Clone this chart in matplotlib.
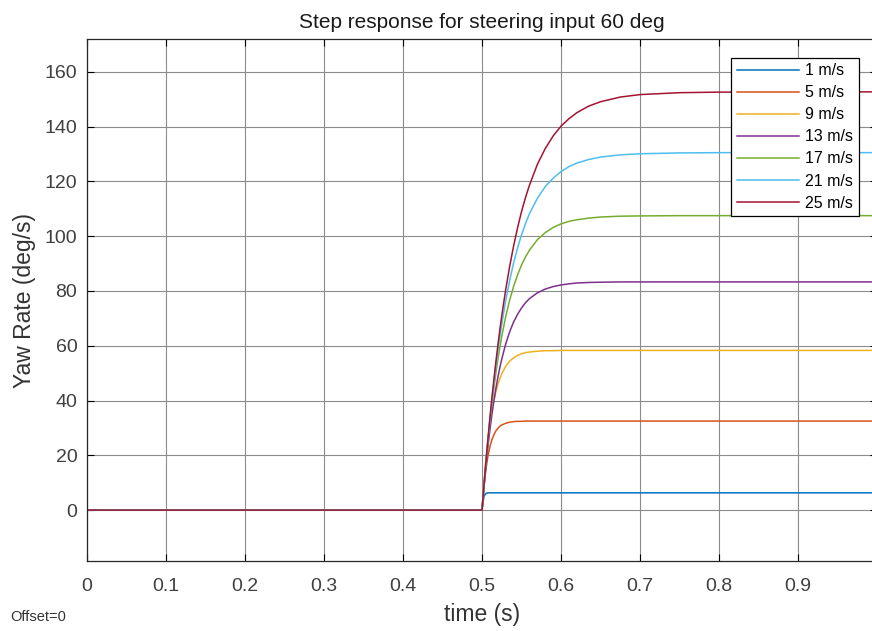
import matplotlib
matplotlib.use('Agg')
import matplotlib.pyplot as plt

plt.rcParams['font.family'] = ['Liberation Sans', 'DejaVu Sans']

# time points (s); step applied at t = 0.5
t = [0, 0.5, 0.5025, 0.505, 0.5075, 0.51, 0.5125, 0.515, 0.5175, 0.52, 0.5225,
     0.525, 0.53, 0.535, 0.54, 0.545, 0.55, 0.555, 0.56, 0.57, 0.58,
     0.59, 0.60, 0.61, 0.62, 0.635, 0.65, 0.675, 0.70, 0.75, 0.80, 1.0]

# yaw rate (deg/s) for each speed
v1 = [0, 0, 5.1, 6.1, 6.26, 6.3, 6.3, 6.3, 6.3, 6.3, 6.3,
      6.3, 6.3, 6.3, 6.3, 6.3, 6.3, 6.3, 6.3, 6.3, 6.3,
      6.3, 6.3, 6.3, 6.3, 6.3, 6.3, 6.3, 6.3, 6.3, 6.3, 6.3]
v5 = [0, 0, 8.7, 15.1, 19.8, 23.2, 25.7, 27.5, 28.9, 29.8, 30.6,
      31.1, 31.7, 32.1, 32.3, 32.4, 32.4, 32.5, 32.5, 32.5, 32.5,
      32.5, 32.5, 32.5, 32.5, 32.5, 32.5, 32.5, 32.5, 32.5, 32.5, 32.5]
v9 = [0, 0, 10.2, 18.6, 25.6, 31.3, 36.0, 39.9, 43.1, 45.8, 48.0,
      49.8, 52.5, 54.4, 55.6, 56.5, 57.1, 57.5, 57.7, 58.0, 58.2,
      58.2, 58.3, 58.3, 58.3, 58.3, 58.3, 58.3, 58.3, 58.3, 58.3, 58.3]
v13 = [0, 0, 8.6, 16.3, 23.2, 29.4, 34.9, 39.9, 44.4, 48.4, 52.0,
       55.2, 60.7, 65.1, 68.7, 71.5, 73.8, 75.7, 77.2, 79.3, 80.7,
       81.6, 82.2, 82.6, 82.9, 83.1, 83.2, 83.3, 83.3, 83.3, 83.3, 83.3]
v17 = [0, 0, 9.2, 17.6, 25.3, 32.3, 38.7, 44.6, 50.0, 54.9, 59.4,
       63.5, 70.7, 76.7, 81.7, 85.9, 89.5, 92.4, 94.9, 98.7, 101.3,
       103.2, 104.5, 105.4, 106.0, 106.6, 107.0, 107.3, 107.4, 107.5, 107.5, 107.5]
v21 = [0, 0, 9.3, 17.8, 25.8, 33.2, 40.1, 46.5, 52.5, 58.0, 63.2,
       68.0, 76.5, 83.9, 90.3, 95.8, 100.5, 104.6, 108.2, 113.8, 118.1,
       121.2, 123.6, 125.4, 126.7, 128.0, 128.9, 129.7, 130.1, 130.4, 130.5, 130.5]
v25 = [0, 0, 9.3, 17.9, 26.1, 33.8, 41.0, 47.7, 54.1, 60.1, 65.7,
       71.0, 80.6, 89.0, 96.5, 103.1, 109.0, 114.1, 118.6, 126.2, 132.0,
       136.6, 140.2, 142.9, 145.1, 147.5, 149.1, 150.8, 151.7, 152.4, 152.6, 152.7]

labels = ['1 m/s', '5 m/s', '9 m/s', '13 m/s', '17 m/s', '21 m/s', '25 m/s']
series = [v1, v5, v9, v13, v17, v21, v25]
colors = ['#0072BD', '#D95319', '#EDB120', '#7E2F8E', '#77AC30', '#4DBEEE', '#A2142F']

fig = plt.figure(figsize=(8.72, 6.31), dpi=100)
# axes runs slightly past the right edge, as in the reference
ax = fig.add_axes([0.0998, 0.1109, 0.9060, 0.8273])

for y, lab, c in zip(series, labels, colors):
    ax.plot(t, y, color=c, lw=1.1, label=lab)

ax.set_xlim(0, 1)
ax.set_ylim(-18.6, 172)
ax.set_xticks([0, 0.1, 0.2, 0.3, 0.4, 0.5, 0.6, 0.7, 0.8, 0.9, 1])
# the "1" label falls outside the cropped picture
ax.set_xticklabels(['0', '0.1', '0.2', '0.3', '0.4', '0.5', '0.6', '0.7', '0.8', '0.9', ''])
ax.set_yticks(range(0, 161, 20))
ax.grid(True, color='#8c8c8c', lw=0.8)
ax.set_axisbelow(True)
ax.tick_params(direction='in', top=True, right=True, labelsize=14,
               labelcolor='#404040', length=5)
ax.tick_params(axis='x', pad=12)
ax.tick_params(axis='y', pad=7)
for s in ax.spines.values():
    s.set_color('#262626')
    s.set_linewidth(0.9)

ax.set_title('Step response for steering input 60 deg', fontsize=15,
             color='#1a1a1a', pad=8)
ax.set_xlabel('time (s)', fontsize=16.5, color='#333333', labelpad=6)
ax.set_ylabel('Yaw Rate (deg/s)', fontsize=16.5, color='#333333', labelpad=6)

leg = ax.legend(loc='upper right', bbox_to_anchor=(0.977, 0.964), borderaxespad=0,
                fontsize=11.5, handlelength=3.9, labelspacing=0.44, fancybox=False,
                framealpha=1, edgecolor='black', borderpad=0.35, handletextpad=0.4)
leg.get_frame().set_linewidth(0.9)

fig.text(0.012, 0.016, 'Offset=0', fontsize=10.5, color='#333333')

fig.savefig('out.png', dpi=100)
